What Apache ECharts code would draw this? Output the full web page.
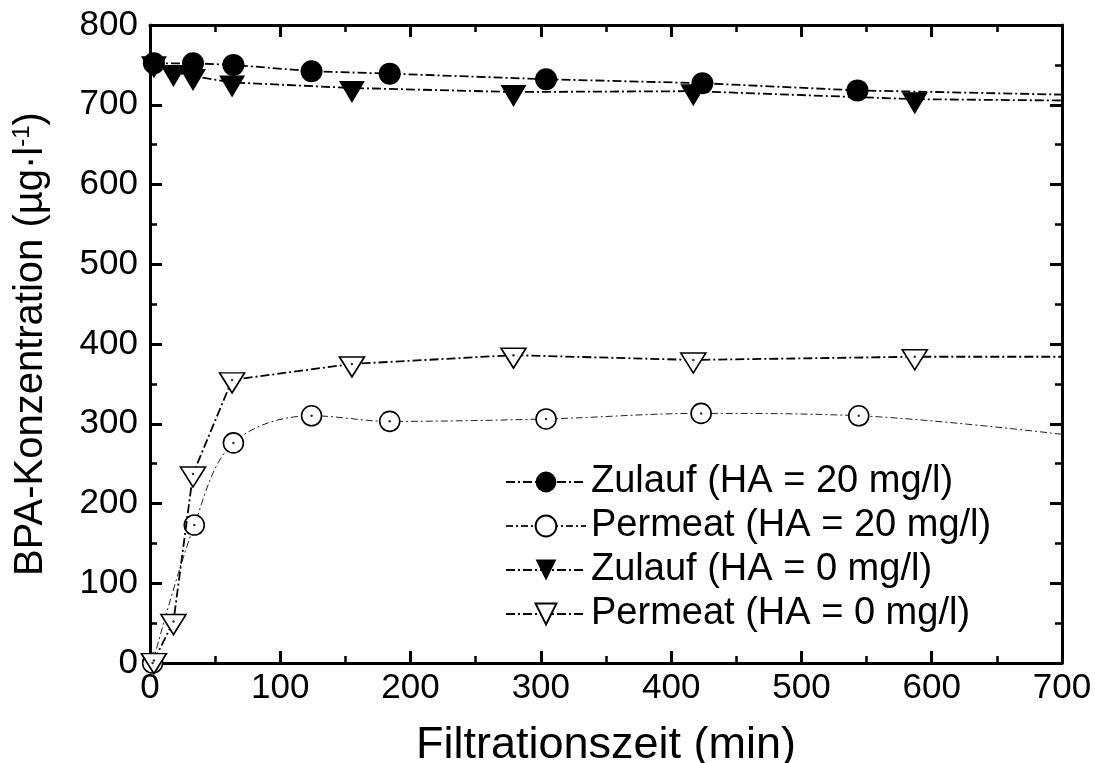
<!DOCTYPE html>
<html>
<head>
<meta charset="utf-8">
<script src="https://cdn.jsdelivr.net/npm/echarts@6/dist/echarts.min.js"></script>
<style>
  html, body { margin: 0; padding: 0; background: #fff; }
  #chart { width: 1095px; height: 763px; }
</style>
</head>
<body>
<div id="chart"></div>
<script>
const zulauf20Zeit = [3, 33, 64, 124, 184, 304, 424, 543, 720];
const zulauf20Wert = [752, 752, 750, 742, 739, 732, 727, 718, 712];
const permeat20Zeit = [2, 34, 64, 124, 184, 304, 423, 544, 720];
const permeat20Wert = [0, 173, 276, 310, 303, 306, 313, 310, 283];
const zulauf0Zeit = [3, 18, 33, 63, 155, 279, 417, 587, 720];
const zulauf0Wert = [752, 741, 736, 728, 721, 716, 717, 707, 705];
const permeat0Zeit = [3, 18, 33, 63, 155, 279, 417, 587, 720];
const permeat0Wert = [3, 52, 237, 355, 375, 386, 380, 384, 384];

const serienNamen = [
  'Zulauf (HA = 20 mg/l)',
  'Permeat (HA = 20 mg/l)',
  'Zulauf (HA = 0 mg/l)',
  'Permeat (HA = 0 mg/l)'
];
const xTicks = [0, 100, 200, 300, 400, 500, 600, 700];
const yTicks = [0, 100, 200, 300, 400, 500, 600, 700, 800];

const paare = (t, v) => t.map((x, i) => [x, v[i]]);

const font = 'Liberation Sans, Arial, sans-serif';
const dashDot = [9, 3, 2, 3];

const chart = echarts.init(document.getElementById('chart'));

function achse(pos, labels) {
  const horizontal = pos === 'bottom' || pos === 'top';
  return {
    type: 'value',
    position: pos,
    min: horizontal ? xTicks[0] : yTicks[0],
    max: horizontal ? xTicks[xTicks.length - 1] : yTicks[yTicks.length - 1],
    interval: 100,
    axisLine: { show: true, onZero: false, lineStyle: { color: '#000', width: 3 } },
    axisTick: { show: true, inside: true, length: 12, lineStyle: { color: '#000', width: 3 } },
    minorTick: { show: true, splitNumber: 2, length: 7, lineStyle: { color: '#000', width: 2.5 } },
    splitLine: { show: false },
    axisLabel: { show: labels, color: '#000', fontFamily: font, fontSize: 35, margin: horizontal ? 8 : 12 }
  };
}

const xUnten = achse('bottom', true);
xUnten.name = 'Filtrationszeit (min)';
xUnten.nameLocation = 'middle';
xUnten.nameGap = 60;
xUnten.nameTextStyle = { color: '#000', fontFamily: font, fontSize: 45 };

const yLinks = achse('left', true);
yLinks.name = '{a|BPA-Konzentration (µg·l}{s|-1}{a|)}';
yLinks.nameLocation = 'middle';
yLinks.nameGap = 98;
yLinks.nameTextStyle = {
  rich: {
    a: { color: '#000', fontFamily: font, fontSize: 40 },
    s: { color: '#000', fontFamily: font, fontSize: 24, verticalAlign: 'top', padding: [0, 0, 18, 0] }
  }
};

const option = {
  animation: false,
  backgroundColor: '#fff',
  grid: { left: 150, right: 33, top: 25, bottom: 100, outerBoundsMode: 'none', containLabel: false },
  xAxis: [xUnten, achse('top', false)],
  yAxis: [yLinks, achse('right', false)],
  legend: {
    data: serienNamen,
    orient: 'vertical',
    left: 500,
    top: 457,
    itemWidth: 80,
    itemHeight: 26,
    itemGap: 4,
    textStyle: { color: '#000', fontFamily: font, fontSize: 38, lineHeight: 40 }
  },
  series: [
    {
      name: serienNamen[0],
      type: 'line',
      data: paare(zulauf20Zeit, zulauf20Wert),
      symbol: 'circle',
      symbolSize: 22,
      itemStyle: { color: '#000' },
      lineStyle: { color: '#000', width: 1.8, type: dashDot },
      z: 3
    },
    {
      name: serienNamen[1],
      type: 'line',
      data: paare(permeat20Zeit, permeat20Wert),
      smooth: 0.35,
      symbol: 'circle',
      symbolSize: 20,
      itemStyle: { color: '#fff', borderColor: '#000', borderWidth: 1.6 },
      lineStyle: { color: '#222', width: 1, type: [7, 3, 2, 3] },
      z: 3
    },
    {
      name: serienNamen[2],
      type: 'line',
      data: paare(zulauf0Zeit, zulauf0Wert),
      symbol: 'triangle',
      symbolRotate: 180,
      symbolSize: [26, 22],
      symbolOffset: [0, 4],
      itemStyle: { color: '#000' },
      lineStyle: { color: '#000', width: 1.8, type: dashDot },
      z: 4
    },
    {
      name: serienNamen[3],
      type: 'line',
      data: paare(permeat0Zeit, permeat0Wert),
      symbol: 'triangle',
      symbolRotate: 180,
      symbolSize: [25, 20],
      symbolOffset: [0, 3],
      itemStyle: { color: '#fff', borderColor: '#000', borderWidth: 1.6 },
      lineStyle: { color: '#000', width: 1.8, type: dashDot },
      z: 4
    },
    {
      name: 'punktP20',
      type: 'scatter',
      data: paare(permeat20Zeit, permeat20Wert),
      symbol: 'circle',
      symbolSize: 2.5,
      itemStyle: { color: '#000' },
      silent: true,
      z: 6
    },
    {
      name: 'punktP0',
      type: 'scatter',
      data: paare(permeat0Zeit, permeat0Wert),
      symbol: 'circle',
      symbolSize: 2.5,
      itemStyle: { color: '#000' },
      silent: true,
      z: 6
    }
  ]
};

chart.setOption(option);
</script>
</body>
</html>
